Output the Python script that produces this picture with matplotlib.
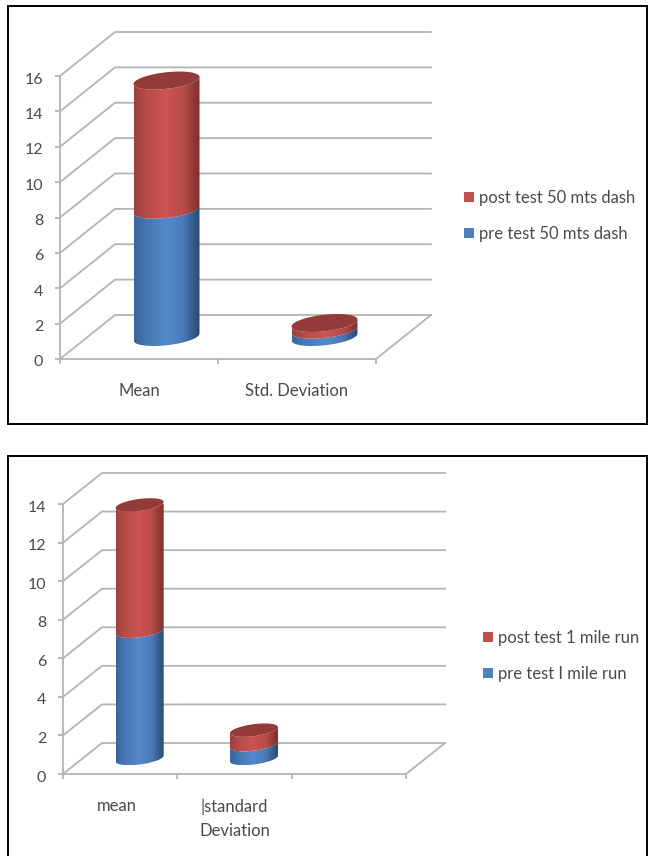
import numpy as np
import matplotlib
matplotlib.use("Agg")
import matplotlib.pyplot as plt
from matplotlib.colors import LinearSegmentedColormap
from matplotlib.patches import Patch, Polygon, Rectangle
from matplotlib.transforms import ScaledTranslation

W, H = 648, 856
plt.rcParams["font.family"] = ["Lato", "DejaVu Sans"]

# 50 metre dash
dash_categories = ["Mean", "Std. Deviation"]
dash_pre = [7.2, 0.42]
dash_post = [7.3, 0.37]
dash_ticks = list(range(0, 17, 2))
dash_legend = ["post test 50 mts dash", "pre test 50 mts dash"]

# 1 mile run
mile_categories = ["mean", "|standard\nDeviation", ""]
mile_pre = [6.6, 0.72]
mile_post = [6.55, 0.75]
mile_ticks = list(range(0, 15, 2))
mile_legend = ["post test 1 mile run", "pre test I mile run"]

GRID = "#b4b4b4"
TEXT = "#4a4a4a"
BLUE = LinearSegmentedColormap.from_list(
    "blue_side", [(0, "#3a659c"), (0.2, "#4878b3"), (0.48, "#5389cb"), (0.75, "#4a7ab6"), (1, "#27496f")])
RED = LinearSegmentedColormap.from_list(
    "red_side", [(0, "#9b403e"), (0.2, "#b84c49"), (0.48, "#cc5452"), (0.75, "#b84b48"), (1, "#7a302e")])
RED_TOP = "#933b39"
GRADIENT = np.linspace(0, 1, 256).reshape(1, -1)


def cylinder(ax, x, y0, y1, half_w, tilt, half_h, cmap, z):
    """Shaded cylinder side between two tilted front arcs."""
    u = np.linspace(-1, 1, 121)
    arc = tilt * u - half_h * np.sqrt(1 - u * u)
    outline = np.vstack([np.column_stack([x + u * half_w, y0 + arc]),
                         np.column_stack([x + u[::-1] * half_w, y1 + arc[::-1]])])
    edge = Polygon(outline, closed=True, transform=ax.transData, facecolor="none", edgecolor="none")
    ax.add_patch(edge)
    low, high = outline[:, 1].min(), outline[:, 1].max()
    img = ax.imshow(GRADIENT, cmap=cmap, aspect="auto", origin="lower", interpolation="bilinear",
                    extent=(x - half_w, x + half_w, low, high), zorder=z)
    img.set_clip_path(edge)


def ellipse_cap(ax, x, y, half_w, tilt, half_h, z):
    t = np.linspace(0, 2 * np.pi, 120)
    pts = np.column_stack([x + half_w * np.cos(t),
                           y + tilt * np.cos(t) + half_h * np.sin(t)])
    ax.add_patch(Polygon(pts, closed=True, facecolor=RED_TOP, edgecolor="none",
                         clip_on=False, zorder=z))


def panel(box, cats, pre, post, ticks, legend_labels, depth_px, cyl_px, legend_px, x_count, first_label_shift):
    left, right, bottom, top = box
    ax = fig.add_axes([left / W, 1 - bottom / H, (right - left) / W, (bottom - top) / H])
    ax.patch.set_alpha(0)
    px_x = (right - left) / x_count
    px_y = (bottom - top) / (ticks[-1] - ticks[0])
    dx, dy = depth_px[0] / px_x, depth_px[1] / px_y

    # Walls and floor of the 3D box
    for v in ticks:
        ax.plot([0, dx, x_count + dx], [v, v + dy, v + dy], color=GRID, lw=1.3,
                clip_on=False, zorder=1)
    ax.plot([x_count, x_count + dx], [0, dy], color=GRID, lw=1.3, clip_on=False, zorder=1)

    for side in ("top", "right"):
        ax.spines[side].set_visible(False)
    for side in ("left", "bottom"):
        ax.spines[side].set_color(GRID)
        ax.spines[side].set_linewidth(1.3)
    ax.set_yticks(ticks)
    ax.set_xticks(range(x_count + 1))
    ax.set_xticklabels([])
    ax.set_xticks(np.arange(len(cats)) + 0.5, cats, minor=True)
    ax.tick_params(axis="both", which="major", color=GRID, width=1.3, length=3.6,
                   labelcolor=TEXT, labelsize=11.5, pad=8.5)
    ax.tick_params(axis="x", which="minor", length=0, labelcolor=TEXT, labelsize=12, pad=17.5)
    for label in ax.get_xticklabels(minor=True):
        label.set_linespacing(1.6)
    # Value labels sit slightly under their tick marks
    for label in ax.get_yticklabels():
        label.set_transform(label.get_transform()
                            + ScaledTranslation(0, -2 / 100, fig.dpi_scale_trans))
    first = ax.get_xticklabels(minor=True)[0]
    first.set_transform(first.get_transform()
                        + ScaledTranslation(first_label_shift / 100, 0, fig.dpi_scale_trans))

    # Stacked cylinders stand halfway into the floor
    half_w = cyl_px[0] / px_x
    tilt = cyl_px[1] / px_y
    half_h = cyl_px[2] / px_y
    for i, (a, b) in enumerate(zip(pre, post)):
        x = i + 0.5 + dx / 2
        base = dy / 2
        cylinder(ax, x, base, base + a, half_w, tilt, half_h, BLUE, 3)
        cylinder(ax, x, base + a, base + a + b, half_w, tilt, half_h, RED, 4)
        ellipse_cap(ax, x, base + a + b, half_w, tilt, half_h, 5)

    ax.set_xlim(0, x_count)
    ax.set_ylim(ticks[0], ticks[-1])

    handles = [Patch(facecolor="#c0504d", edgecolor="none"),
               Patch(facecolor="#4f81bd", edgecolor="none")]
    ax.legend(handles, legend_labels, loc="upper left", frameon=False,
              bbox_to_anchor=(legend_px[0] / W, 1 - legend_px[1] / H),
              bbox_transform=fig.transFigure, fontsize=12, labelcolor=TEXT,
              handlelength=0.6, handleheight=0.6, handletextpad=0.28,
              labelspacing=1.2, borderpad=0, borderaxespad=0)
    return ax


fig = plt.figure(figsize=(W / 100, H / 100), dpi=100, facecolor="white")

# Black frames around the two charts
for (x0, y0, x1, y1) in [(8, 6, 647, 424), (8, 456, 647, 860)]:
    fig.add_artist(Rectangle((x0 / W, 1 - y1 / H), (x1 - x0) / W, (y1 - y0) / H,
                             transform=fig.transFigure, fill=False, edgecolor="black",
                             linewidth=1.4, clip_on=False))

panel((60, 376, 359, 76), dash_categories, dash_pre, dash_post, dash_ticks, dash_legend,
      (55, 44), (33, 3.5, 8.3), (464, 190), 2, 0)
panel((63, 406, 774, 504), mile_categories, mile_pre, mile_post, mile_ticks, mile_legend,
      (39, 31), (24, 3, 6), (483, 630), 3, -3)

fig.savefig("out.png", dpi=100)
